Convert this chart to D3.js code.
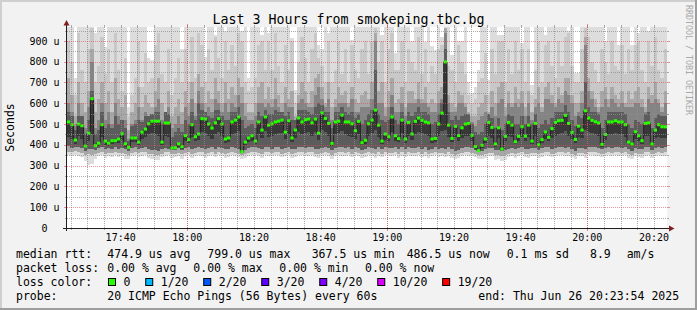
<!DOCTYPE html>
<html><head><meta charset="utf-8">
<script src="https://cdn.jsdelivr.net/npm/d3@7"></script>
<style>
html,body{margin:0;padding:0;background:#f2f2f2;}
svg{display:block;}
text{font-family:"DejaVu Sans Mono",monospace;fill:#000;}
</style>
</head><body>
<svg id="chart" width="697" height="310"></svg>
<script>
// ---------------- data ----------------
const chartTitle = "Last 3 Hours from smokeping.tbc.bg";
const yAxisTitle = "Seconds";
const watermark = "RRDTOOL / TOBI OETIKER";
const startTime = Date.UTC(2025, 5, 26, 17, 23, 54);
const endTime = Date.UTC(2025, 5, 26, 20, 23, 54);
const stepSeconds = 60;
const yUpper = 967;

const yTickValues = [0, 100, 200, 300, 400, 500, 600, 700, 800, 900];
const yTickLabels = ["0", "100 u", "200 u", "300 u", "400 u", "500 u", "600 u", "700 u", "800 u", "900 u"];
const xTickLabels = ["17:40", "18:00", "18:20", "18:40", "19:00", "19:20", "19:40", "20:00", "20:20"];

// median RTT per 60 s step (microseconds)
const medianRtt = [
 510,497,423,500,492,394,456,622,396,408,
 497,418,408,420,420,428,453,405,388,433,
 433,413,461,476,501,514,514,514,413,505,
 505,385,386,405,391,444,425,497,439,452,
 526,524,500,481,506,526,500,428,433,510,
 519,534,367.5,413,433,444,418,510,471,534,
 495,501,510,514,519,461,516,433,471,529,
 510,521,524,506,524,456,554,527,503,407,
 510,514,543,510,510,501,468,513,410,422,
 501,519,567,495,418,452,439,534,444,430,
 519,428,508,452,513,529,518,510,506,428,
 431,500,553,799,495,431,489,445,482,500,
 503,446,392,372,398,428,508,484,404,482,
 380,441,508,495,415,441,487,442,495,418,
 503,400,425,462,436,478,508,516,518,542,
 503,460,426,490,471,564,529,518,511,505,
 402,450,510,510,516,510,510,497,413,404,
 463,444,420,503,506,404,471,497,487,486.5
];
// highest ping (capped at graph top)
const pingMax = [
 967,967,720,967,967,967,967,967,940,967,
 967,870,967,967,967,967,967,967,580,967,
 967,967,967,967,820,810,967,967,967,967,
 967,967,967,967,860,967,967,967,967,967,
 967,822,967,967,930,967,967,950,967,967,
 967,967,950,967,720,967,967,967,930,967,
 940,967,967,967,967,967,967,913,663,967,
 967,967,967,967,967,880,860,967,940,967,
 967,967,967,967,967,903,967,967,967,967,
 967,967,967,967,930,967,967,967,841,967,
 967,967,967,900,967,967,967,894,967,875,
 856,967,920,967,967,832,967,900,900,967,
 700,650,680,760,967,967,711,967,967,930,
 930,967,967,967,967,967,890,967,967,688,
 967,967,967,930,967,967,967,967,967,967,
 950,967,745,745,967,967,967,967,967,967,
 967,900,967,967,967,880,967,967,967,880,
 967,940,967,967,950,967,967,967,967,967
];
// upper smoke boundaries (light -> dark)
const smokeU2 = [
 900,800,640,940,760,700,860,960,700,780,
 920,740,860,700,940,760,660,820,540,640,
 720,900,680,840,700,720,880,940,740,700,
 860,640,720,820,700,860,700,920,720,940,
 880,700,860,760,920,820,720,900,760,880,
 780,940,900,700,660,680,720,880,900,760,
 900,760,940,780,700,880,760,900,600,800,
 920,820,700,860,940,820,780,700,900,700,
 760,900,740,860,700,880,760,720,860,900,
 740,900,960,800,900,700,860,940,760,760,
 900,700,860,800,760,920,740,860,700,780,
 740,860,880,960,780,760,700,880,800,740,
 640,600,620,700,720,840,640,860,740,900,
 900,700,860,740,900,760,860,700,860,640,
 760,900,700,880,900,780,720,900,780,920,
 940,780,700,700,860,960,920,800,760,700,
 860,800,740,900,780,760,880,740,860,760,
 880,900,760,700,900,780,920,760,720,860
];
const smokeU4 = [
 720,640,540,700,600,560,660,860,560,620,
 700,600,660,560,720,620,580,640,470,560,
 600,680,580,640,600,580,660,720,600,560,
 660,540,580,620,560,660,600,700,600,740,
 680,600,660,620,720,660,600,700,620,680,
 640,720,680,600,560,560,600,680,700,620,
 680,620,720,640,600,680,620,660,540,640,
 700,660,600,660,720,740,680,600,700,580,
 620,680,640,660,600,680,620,600,640,660,
 620,700,940,660,700,580,660,720,600,620,
 680,580,660,660,620,700,620,680,600,620,
 600,660,680,960,640,600,580,660,640,600,
 560,540,540,580,600,640,560,660,600,680,
 700,580,660,600,680,620,660,580,660,560,
 620,680,580,680,700,640,600,680,640,720,
 720,640,600,600,660,920,720,660,620,580,
 660,680,620,680,640,620,660,600,660,620,
 660,680,620,580,680,640,700,620,580,660
];
const smokeU6 = [
 600,560,490,600,540,480,580,800,480,520,
 600,520,560,500,600,540,520,520,430,500,
 520,580,520,560,540,540,580,620,520,540,
 580,480,500,540,500,580,540,620,540,660,
 600,560,580,560,620,600,560,600,560,600,
 580,640,600,540,520,520,540,600,600,580,
 600,580,620,580,560,600,580,580,500,600,
 620,600,580,580,640,680,620,580,620,520,
 580,600,600,600,580,620,560,560,580,580,
 580,620,900,600,600,540,580,640,560,560,
 600,540,600,600,600,620,600,600,580,560,
 560,600,620,940,600,560,560,600,600,580,
 540,510,490,520,540,560,540,580,540,600,
 620,540,600,580,600,580,600,540,600,520,
 580,600,560,620,620,600,580,620,600,660,
 640,600,540,560,600,880,660,620,580,560,
 580,620,580,620,600,580,600,580,580,580,
 600,600,580,560,620,600,620,600,560,600
];
const smokeU8 = [
 560,540,470,540,540,450,520,660,450,470,
 560,480,500,480,540,500,520,480,420,490,
 500,520,510,540,540,550,560,560,500,560,
 550,440,460,480,460,520,500,560,520,600,
 570,560,540,530,570,570,540,520,520,560,
 560,580,520,480,490,500,480,560,540,570,
 550,550,570,560,560,540,560,520,520,570,
 570,570,560,550,580,600,590,560,560,480,
 560,560,580,560,550,560,530,550,500,520,
 550,570,760,550,520,510,520,580,520,500,
 560,500,560,540,560,580,560,560,550,500,
 510,550,600,860,560,520,540,520,540,550,
 550,500,460,450,460,500,550,530,480,530,
 470,500,550,540,500,500,540,500,540,500,
 550,480,500,520,500,530,560,560,560,590,
 560,520,490,540,530,700,580,560,560,550,
 480,520,560,560,560,560,560,550,500,480,
 520,510,500,550,560,480,530,550,540,540
];
// lower smoke boundaries (lowest ping, then darker)
const smokeL1 = [
 350,345,352,348,340,320,305,310,330,345,
 350,338,345,342,350,340,345,332,330,345,
 350,342,348,350,338,330,328,325,340,346,
 350,335,340,346,332,344,350,338,345,350,
 348,336,345,350,340,352,345,338,342,350,
 346,340,330,338,345,350,352,346,338,350,
 348,344,350,352,340,346,350,336,342,350,
 352,345,348,350,340,338,344,350,346,330,
 345,350,348,344,350,340,352,346,336,342,
 350,345,338,348,340,350,344,346,350,338,
 348,340,352,346,344,350,340,348,336,344,
 350,342,346,340,348,338,330,336,345,350,
 348,345,340,330,332,338,346,344,325,330,
 320,328,340,346,338,344,350,342,338,346,
 344,336,342,350,348,340,346,350,352,345,
 348,340,330,344,346,338,350,352,348,345,
 340,344,350,346,352,348,344,350,338,330,
 346,340,338,348,350,336,344,350,346,348
];
const smokeL2 = [
 368,365,370,366,360,350,355,352,355,362,
 366,358,362,360,366,360,362,355,352,360,
 365,360,364,366,358,354,352,350,358,364,
 366,355,358,362,354,362,366,358,362,366,
 364,356,362,366,358,368,362,356,360,366,
 362,358,352,356,362,366,368,362,356,366,
 364,360,366,368,358,362,366,356,360,366,
 368,362,364,366,358,356,360,366,362,352,
 362,366,364,360,366,358,368,362,354,360,
 366,362,356,364,358,366,360,362,366,356,
 364,358,368,362,360,366,358,364,354,360,
 366,360,362,358,364,356,350,354,362,366,
 364,362,356,352,352,356,362,360,350,352,
 348,350,358,362,356,360,366,358,356,362,
 360,354,360,366,364,358,362,366,368,362,
 364,358,350,360,362,356,366,368,364,362,
 358,360,366,362,368,364,360,366,356,350,
 362,358,356,364,366,354,360,366,362,364
];
const smokeL3 = [
 395,385,390,392,385,372,378,380,375,385,
 392,380,385,382,388,382,386,378,372,384,
 388,382,386,390,380,376,374,372,380,386,
 378,374,376,384,376,386,388,380,384,390,
 386,378,384,390,380,392,386,378,382,390,
 386,380,362,376,384,390,392,386,378,390,
 388,382,390,392,380,386,390,378,382,390,
 392,386,388,390,380,378,384,390,386,376,
 386,390,388,384,390,380,392,386,376,382,
 390,386,378,388,380,390,384,386,390,378,
 388,380,392,386,384,390,380,388,376,382,
 390,382,386,380,388,378,372,376,386,390,
 388,384,376,366,370,378,386,384,374,376,
 372,374,380,386,378,384,390,380,378,386,
 384,376,384,390,388,380,386,390,392,386,
 388,380,372,384,386,378,390,392,388,386,
 380,384,390,386,392,388,384,390,378,372,
 386,380,378,388,390,376,384,390,386,388
];
const smokeL4 = [
 440,430,405,445,430,385,420,450,388,395,
 440,400,395,405,410,410,425,392,380,415,
 415,400,430,440,450,455,450,445,400,445,
 440,378,378,392,382,420,410,440,420,425,
 460,455,445,430,450,460,445,410,415,450,
 455,465,364,400,415,420,405,450,435,465,
 440,445,450,455,455,430,450,415,435,460,
 450,455,460,445,460,425,470,460,445,395,
 450,455,465,450,445,440,430,450,398,405,
 445,455,470,440,405,425,420,460,420,412,
 455,410,445,425,450,460,455,450,445,410,
 412,445,465,470,440,412,440,420,435,445,
 445,420,382,368,385,410,445,435,392,435,
 374,420,445,440,402,420,440,420,440,405,
 445,390,410,430,418,435,445,450,455,465,
 445,430,410,440,432,470,460,455,450,445,
 392,425,450,450,455,450,450,440,402,395,
 430,420,405,445,445,395,432,440,435,435
];

const medianLabel = "median rtt:";
const medianStats = ["474.9 us avg", "799.0 us max", "367.5 us min", "486.5 us now", "0.1 ms sd", "8.9", "am/s"];
const lossLabel = "packet loss:";
const lossStats = ["0.00 % avg", "0.00 % max", "0.00 % min", "0.00 % now"];
const lossColorLabel = "loss color:";
const lossLabels = ["0", "1/20", "2/20", "3/20", "4/20", "10/20", "19/20"];
const lossColors = ["#26ff00", "#00b8ff", "#0059ff", "#5e00ff", "#7e00ff", "#dd00ff", "#ff0000"];
const probeLabel = "probe:";
const probeText = "20 ICMP Echo Pings (56 Bytes) every 60s";
const endText = "end: Thu Jun 26 20:23:54 2025";

// ---------------- layout ----------------
const W = 697, H = 310;
const pL = 67, pR = 667, pT = 27, pB = 228;
const svg = d3.select("#chart");

svg.append("rect").attr("x",0).attr("y",0).attr("width",W).attr("height",H).attr("fill","#f2f2f2");
svg.append("rect").attr("x",0).attr("y",0).attr("width",W).attr("height",2).attr("fill","#cfcfcf");
svg.append("rect").attr("x",0).attr("y",0).attr("width",2).attr("height",H).attr("fill","#cfcfcf");
svg.append("rect").attr("x",0).attr("y",H-2).attr("width",W).attr("height",2).attr("fill","#9e9e9e");
svg.append("rect").attr("x",W-2).attr("y",0).attr("width",2).attr("height",H).attr("fill","#9e9e9e");

const x = d3.scaleUtc().domain([new Date(startTime), new Date(endTime)]).range([pL, pR]);
const y = d3.scaleLinear().domain([0, yUpper]).range([pB, pT]);

svg.append("rect").attr("x",pL).attr("y",pT).attr("width",pR-pL).attr("height",pB-pT).attr("fill","#ffffff");

const n = medianRtt.length;
const idx = d3.range(n + 1);
const tAt = i => new Date(startTime + i * stepSeconds * 1000);
const at = (arr, i) => arr[Math.min(i, n - 1)];

const plot = svg.append("g");
function band(lo, hi, color) {
  const area = d3.area()
    .x(i => x(tAt(i)))
    .y0(i => y(at(lo, i)))
    .y1(i => y(Math.min(at(hi, i), yUpper)))
    .curve(d3.curveStepAfter);
  plot.append("path").attr("d", area(idx)).attr("fill", color).attr("shape-rendering","crispEdges");
}
band(smokeL1, pingMax, "#dddddd");
band(smokeL2, smokeU2, "#c8c8c8");
band(smokeL2, smokeU4, "#a8a8a8");
band(smokeL3, smokeU6, "#848484");
band(smokeL3, smokeU8, "#5c5c5c");
band(smokeL4, medianRtt, "#383838");

const medLine = d3.line().x(i => x(tAt(i))).y(i => y(at(medianRtt, i))).curve(d3.curveStepAfter);
plot.append("path").attr("d", medLine(idx)).attr("fill","none").attr("stroke","#202020").attr("stroke-width",1);

plot.selectAll("rect.med").data(medianRtt).join("rect")
  .attr("class","med")
  .attr("x",(d,i)=>x(tAt(i)))
  .attr("width",(d,i)=>x(tAt(i+1))-x(tAt(i)))
  .attr("y",d=>y(d)-1.5)
  .attr("height",3)
  .attr("fill",lossColors[0]);

// grid
const gridMinor = "rgba(143,143,143,0.75)";
const gridMajor = "rgba(222,79,79,0.6)";
const grid = svg.append("g").attr("shape-rendering","crispEdges");
const minorTimes = d3.utcMinute.every(5).range(new Date(startTime), new Date(endTime));
const majorTimes = d3.utcHour.every(1).range(new Date(startTime), new Date(endTime));
const px = v => Math.round(v) + 0.5;
minorTimes.forEach(t => {
  const xx = px(x(t));
  grid.append("line").attr("x1",xx).attr("x2",xx).attr("y1",pT).attr("y2",pB)
    .attr("stroke",gridMinor).attr("stroke-dasharray","1,1");
  grid.append("line").attr("x1",xx).attr("x2",xx).attr("y1",pB).attr("y2",pB+2).attr("stroke",gridMinor);
  grid.append("line").attr("x1",xx).attr("x2",xx).attr("y1",pT-2).attr("y2",pT).attr("stroke",gridMinor);
});
majorTimes.forEach(t => {
  const xx = px(x(t));
  grid.append("line").attr("x1",xx).attr("x2",xx).attr("y1",pT).attr("y2",pB)
    .attr("stroke",gridMajor).attr("stroke-dasharray","1,1");
  grid.append("line").attr("x1",xx).attr("x2",xx).attr("y1",pB).attr("y2",pB+3).attr("stroke",gridMajor);
  grid.append("line").attr("x1",xx).attr("x2",xx).attr("y1",pT-3).attr("y2",pT).attr("stroke",gridMajor);
});
const minorY = d3.range(50, yUpper, 100);
minorY.forEach(v => {
  const yy = px(y(v));
  grid.append("line").attr("x1",pL).attr("x2",pR).attr("y1",yy).attr("y2",yy)
    .attr("stroke",gridMinor).attr("stroke-dasharray","1,1");
  grid.append("line").attr("x1",pL-2).attr("x2",pL).attr("y1",yy).attr("y2",yy).attr("stroke",gridMinor);
  grid.append("line").attr("x1",pR).attr("x2",pR+2).attr("y1",yy).attr("y2",yy).attr("stroke",gridMinor);
});
yTickValues.filter(v => v > 0).forEach(v => {
  const yy = px(y(v));
  grid.append("line").attr("x1",pL).attr("x2",pR).attr("y1",yy).attr("y2",yy)
    .attr("stroke",gridMajor).attr("stroke-dasharray","1,1");
  grid.append("line").attr("x1",pL-3).attr("x2",pL).attr("y1",yy).attr("y2",yy).attr("stroke",gridMajor);
  grid.append("line").attr("x1",pR).attr("x2",pR+3).attr("y1",yy).attr("y2",yy).attr("stroke",gridMajor);
});

// axes
const axisCol = "#1f1f1f", arrowCol = "#801f1f";
svg.append("line").attr("x1",63).attr("x2",670).attr("y1",pB+0.5).attr("y2",pB+0.5).attr("stroke",axisCol);
svg.append("line").attr("x1",pL-0.5).attr("x2",pL-0.5).attr("y1",pB+3).attr("y2",22).attr("stroke",axisCol);
svg.append("path").attr("d",`M669,${pB-2.5}L674.5,${pB+0.5}L669,${pB+3.5}Z`).attr("fill",arrowCol);
svg.append("path").attr("d",`M${pL-3.5},25.5L${pL-0.5},20L${pL+2.5},25.5Z`).attr("fill",arrowCol);

// y tick labels
svg.append("g").selectAll("text").data(yTickValues).join("text")
  .attr("x", (d,i) => yTickLabels[i].length > 1 ? 59.5 : 47.5)
  .attr("y", d => y(d) + 3.6)
  .attr("text-anchor","end").attr("font-size","10px")
  .text((d,i) => yTickLabels[i]);

// x tick labels
const parseHM = s => { const [h,m] = s.split(":").map(Number); return new Date(Date.UTC(2025,5,26,h,m)); };
svg.append("g").selectAll("text").data(xTickLabels).join("text")
  .attr("x", d => x(parseHM(d)))
  .attr("y", 241)
  .attr("text-anchor","middle").attr("font-size","10px")
  .text(d => d);

svg.append("text").attr("x",348.5).attr("y",23.5).attr("text-anchor","middle")
  .attr("font-size","13.3px").text(chartTitle);

svg.append("text").attr("transform",`translate(14,${(pT+pB)/2}) rotate(-90)`)
  .attr("text-anchor","middle").attr("font-size","11.5px").text(yAxisTitle);

svg.append("text").attr("transform","translate(685.5,5) rotate(90)")
  .attr("font-size","8.3px").style("fill","#a8a8a8").text(watermark);

// legend
const lg = svg.append("g").attr("font-size","11.5px");
const row1X = [107.3, 207.3, 311.7, 406.7, 506.7, 590, 626.7];
const row2X = [107.3, 193.3, 279.3, 365];
lg.append("text").attr("x",16).attr("y",258).text(medianLabel);
medianStats.forEach((s,i) => lg.append("text").attr("x",row1X[i]).attr("y",258).text(s));
lg.append("text").attr("x",16).attr("y",272).text(lossLabel);
lossStats.forEach((s,i) => lg.append("text").attr("x",row2X[i]).attr("y",272).text(s));
lg.append("text").attr("x",16).attr("y",286).text(lossColorLabel);
let cx = 108.5;
lossLabels.forEach((s,i) => {
  lg.append("rect").attr("x",cx).attr("y",278.5).attr("width",7).attr("height",7)
    .attr("fill",lossColors[i]).attr("stroke","#000").attr("stroke-width",1);
  const t = lg.append("text").attr("x",cx+15).attr("y",286).text(s);
  cx = cx + 15 + t.node().getComputedTextLength() + 15.3;
});
lg.append("text").attr("x",16).attr("y",300).text(probeLabel);
lg.append("text").attr("x",107.3).attr("y",300).text(probeText);
lg.append("text").attr("x",478.3).attr("y",300).text(endText);
</script>
</body></html>
